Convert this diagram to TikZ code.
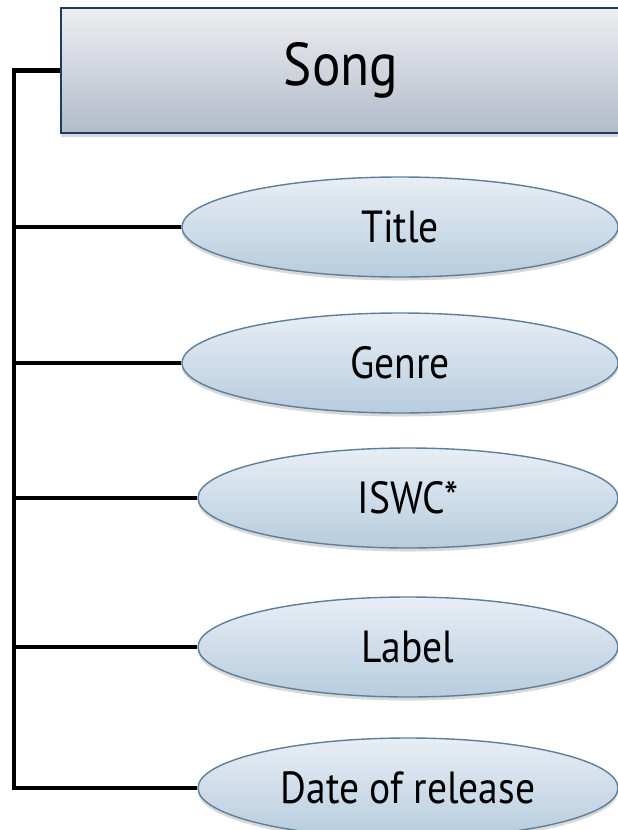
\documentclass[tikz,border=0pt]{standalone}
\usepackage{fontspec}
\setmainfont[FakeStretch=0.88]{PT Sans}
\usetikzlibrary{shapes.geometric,shadows}
\definecolor{entityline}{HTML}{1C3D5E}
\definecolor{entitytop}{HTML}{EDEEF1}
\definecolor{entitybot}{HTML}{B3BBCA}
\definecolor{attrline}{HTML}{5E7E99}
\definecolor{attrtop}{HTML}{E8EEF5}
\definecolor{attrbot}{HTML}{B7CCDE}
\tikzset{
  entity/.style={draw=entityline, line width=1.3pt, top color=entitytop,
    bottom color=entitybot, minimum width=14cm, minimum height=3.125cm,
    drop shadow={shadow xshift=0pt, shadow yshift=-2.5pt, opacity=0.3},
    font=\fontsize{43}{48}\selectfont},
  attr/.style={ellipse, draw=attrline, line width=1pt, top color=attrtop,
    bottom color=attrbot, minimum height=2.5cm, inner sep=0pt,
    drop shadow={shadow xshift=0pt, shadow yshift=-2.5pt, opacity=0.3},
    font=\fontsize{32}{38}\selectfont},
  link/.style={line width=3.2pt}
}
\begin{document}
\begin{tikzpicture}
  \useasboundingbox (0,0) rectangle (15.45,-20.75);
  \coordinate (spine) at (0.35,0);
  \node[entity] (song) at (8.525,-1.7625) {Song};
  \node[attr, minimum width=10.9cm] (title) at (10.0,-5.675)  {Title};
  \node[attr, minimum width=10.9cm] (genre) at (10.0,-9.075)  {Genre};
  \node[attr, minimum width=10.5cm] (iswc)  at (10.2,-12.45)  {ISWC*};
  \node[attr, minimum width=10.5cm] (label) at (10.2,-16.175) {Label};
  \node[attr, minimum width=10.5cm] (date)  at (10.2,-19.7)   {Date of release};
  \draw[link] (song.west) -| (spine |- date.west) -- (date.west);
  \draw[link] (title.west) -- (spine |- title.west);
  \draw[link] (genre.west) -- (spine |- genre.west);
  \draw[link] (iswc.west)  -- (spine |- iswc.west);
  \draw[link] (label.west) -- (spine |- label.west);
\end{tikzpicture}
\end{document}
